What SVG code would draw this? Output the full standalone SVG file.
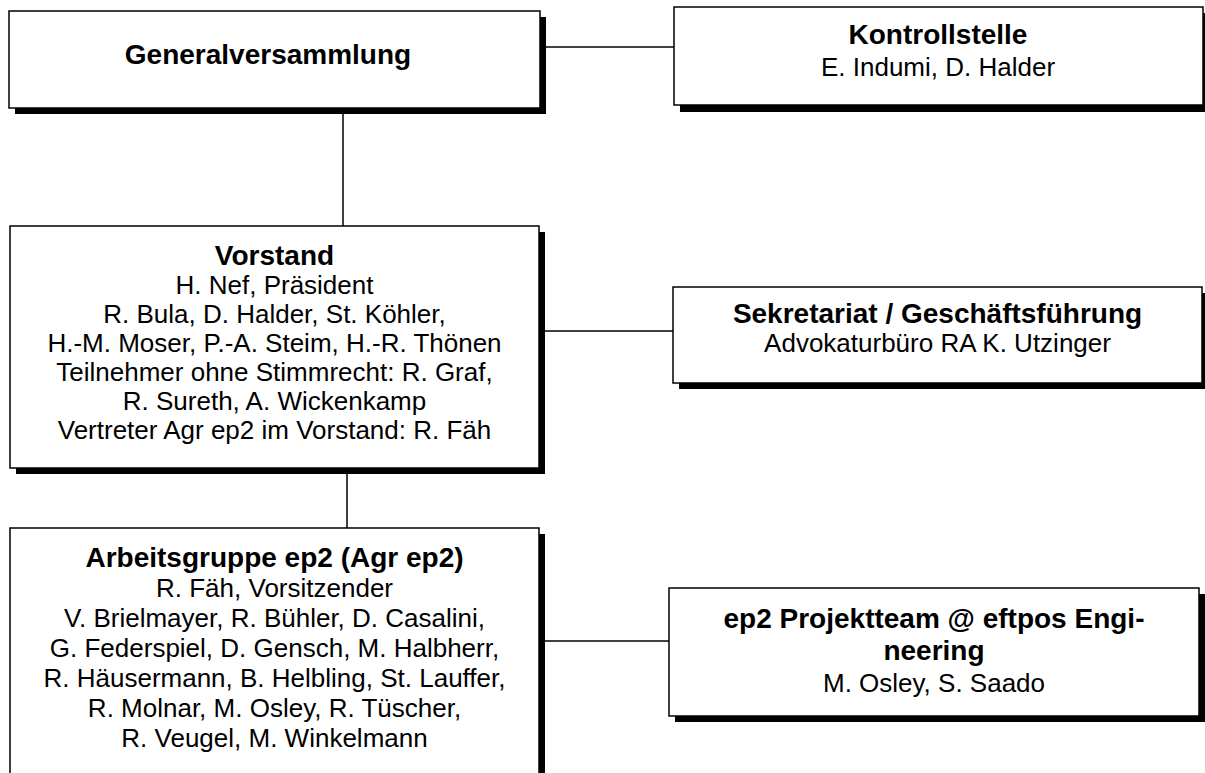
<svg xmlns="http://www.w3.org/2000/svg" width="1205" height="773" viewBox="0 0 1205 773">
<style>
.box{fill:#fff;stroke:#000;stroke-width:1.5}
.sh{fill:#000}
.t{font-family:"Liberation Sans",Arial,sans-serif;font-size:26px;text-anchor:middle;fill:#000}
.b{font-weight:bold;font-size:28px}
.c{stroke:#000;stroke-width:1.5;fill:none}
</style>
<rect width="1205" height="773" fill="#fff"/>
<g id="connectors">
<line class="c" x1="540" y1="47" x2="674" y2="47"/>
<line class="c" x1="343" y1="108" x2="343" y2="226"/>
<line class="c" x1="539" y1="331" x2="673" y2="331"/>
<line class="c" x1="347" y1="468" x2="347" y2="528"/>
<line class="c" x1="539" y1="641" x2="669" y2="641"/>
</g>
<g id="generalversammlung">
<rect class="sh" x="15" y="17" width="531" height="97"/>
<rect class="box" x="9" y="11" width="531" height="97"/>
<text class="t b" x="268" y="64">Generalversammlung</text>
</g>
<g id="kontrollstelle">
<rect class="sh" x="680" y="13" width="529" height="99"/>
<rect class="box" x="674" y="7" width="529" height="98"/>
<text class="t b" x="938" y="44">Kontrollstelle</text>
<text class="t" x="938" y="76">E. Indumi, D. Halder</text>
</g>
<g id="vorstand">
<rect class="sh" x="16" y="232" width="529" height="242"/>
<rect class="box" x="10" y="226" width="529" height="242"/>
<text class="t b" x="274.5" y="265">Vorstand</text>
<text class="t" x="274.5" y="294">H. Nef, Präsident</text>
<text class="t" x="274.5" y="323">R. Bula, D. Halder, St. Köhler,</text>
<text class="t" x="274.5" y="352">H.-M. Moser, P.-A. Steim, H.-R. Thönen</text>
<text class="t" x="274.5" y="381">Teilnehmer ohne Stimmrecht: R. Graf,</text>
<text class="t" x="274.5" y="410">R. Sureth, A. Wickenkamp</text>
<text class="t" x="274.5" y="439">Vertreter Agr ep2 im Vorstand: R. Fäh</text>
</g>
<g id="sekretariat">
<rect class="sh" x="679" y="293" width="529" height="96"/>
<rect class="box" x="673" y="287" width="529" height="96"/>
<text class="t b" x="937.5" y="323">Sekretariat / Geschäftsführung</text>
<text class="t" x="937.5" y="352">Advokaturbüro RA K. Utzinger</text>
</g>
<g id="arbeitsgruppe">
<rect class="sh" x="16" y="534" width="529" height="260"/>
<rect class="box" x="10" y="528" width="529" height="260"/>
<text class="t b" x="274.5" y="567">Arbeitsgruppe ep2 (Agr ep2)</text>
<text class="t" x="274.5" y="597">R. Fäh, Vorsitzender</text>
<text class="t" x="274.5" y="627">V. Brielmayer, R. Bühler, D. Casalini,</text>
<text class="t" x="274.5" y="657">G. Federspiel, D. Gensch, M. Halbherr,</text>
<text class="t" x="274.5" y="687">R. Häusermann, B. Helbling, St. Lauffer,</text>
<text class="t" x="274.5" y="717">R. Molnar, M. Osley, R. Tüscher,</text>
<text class="t" x="274.5" y="747">R. Veugel, M. Winkelmann</text>
</g>
<g id="projektteam">
<rect class="sh" x="675" y="594" width="530" height="128"/>
<rect class="box" x="669" y="588" width="530" height="128"/>
<text class="t b" x="934" y="628">ep2 Projektteam @ eftpos Engi-</text>
<text class="t b" x="934" y="660">neering</text>
<text class="t" x="934" y="692">M. Osley, S. Saado</text>
</g>
</svg>
